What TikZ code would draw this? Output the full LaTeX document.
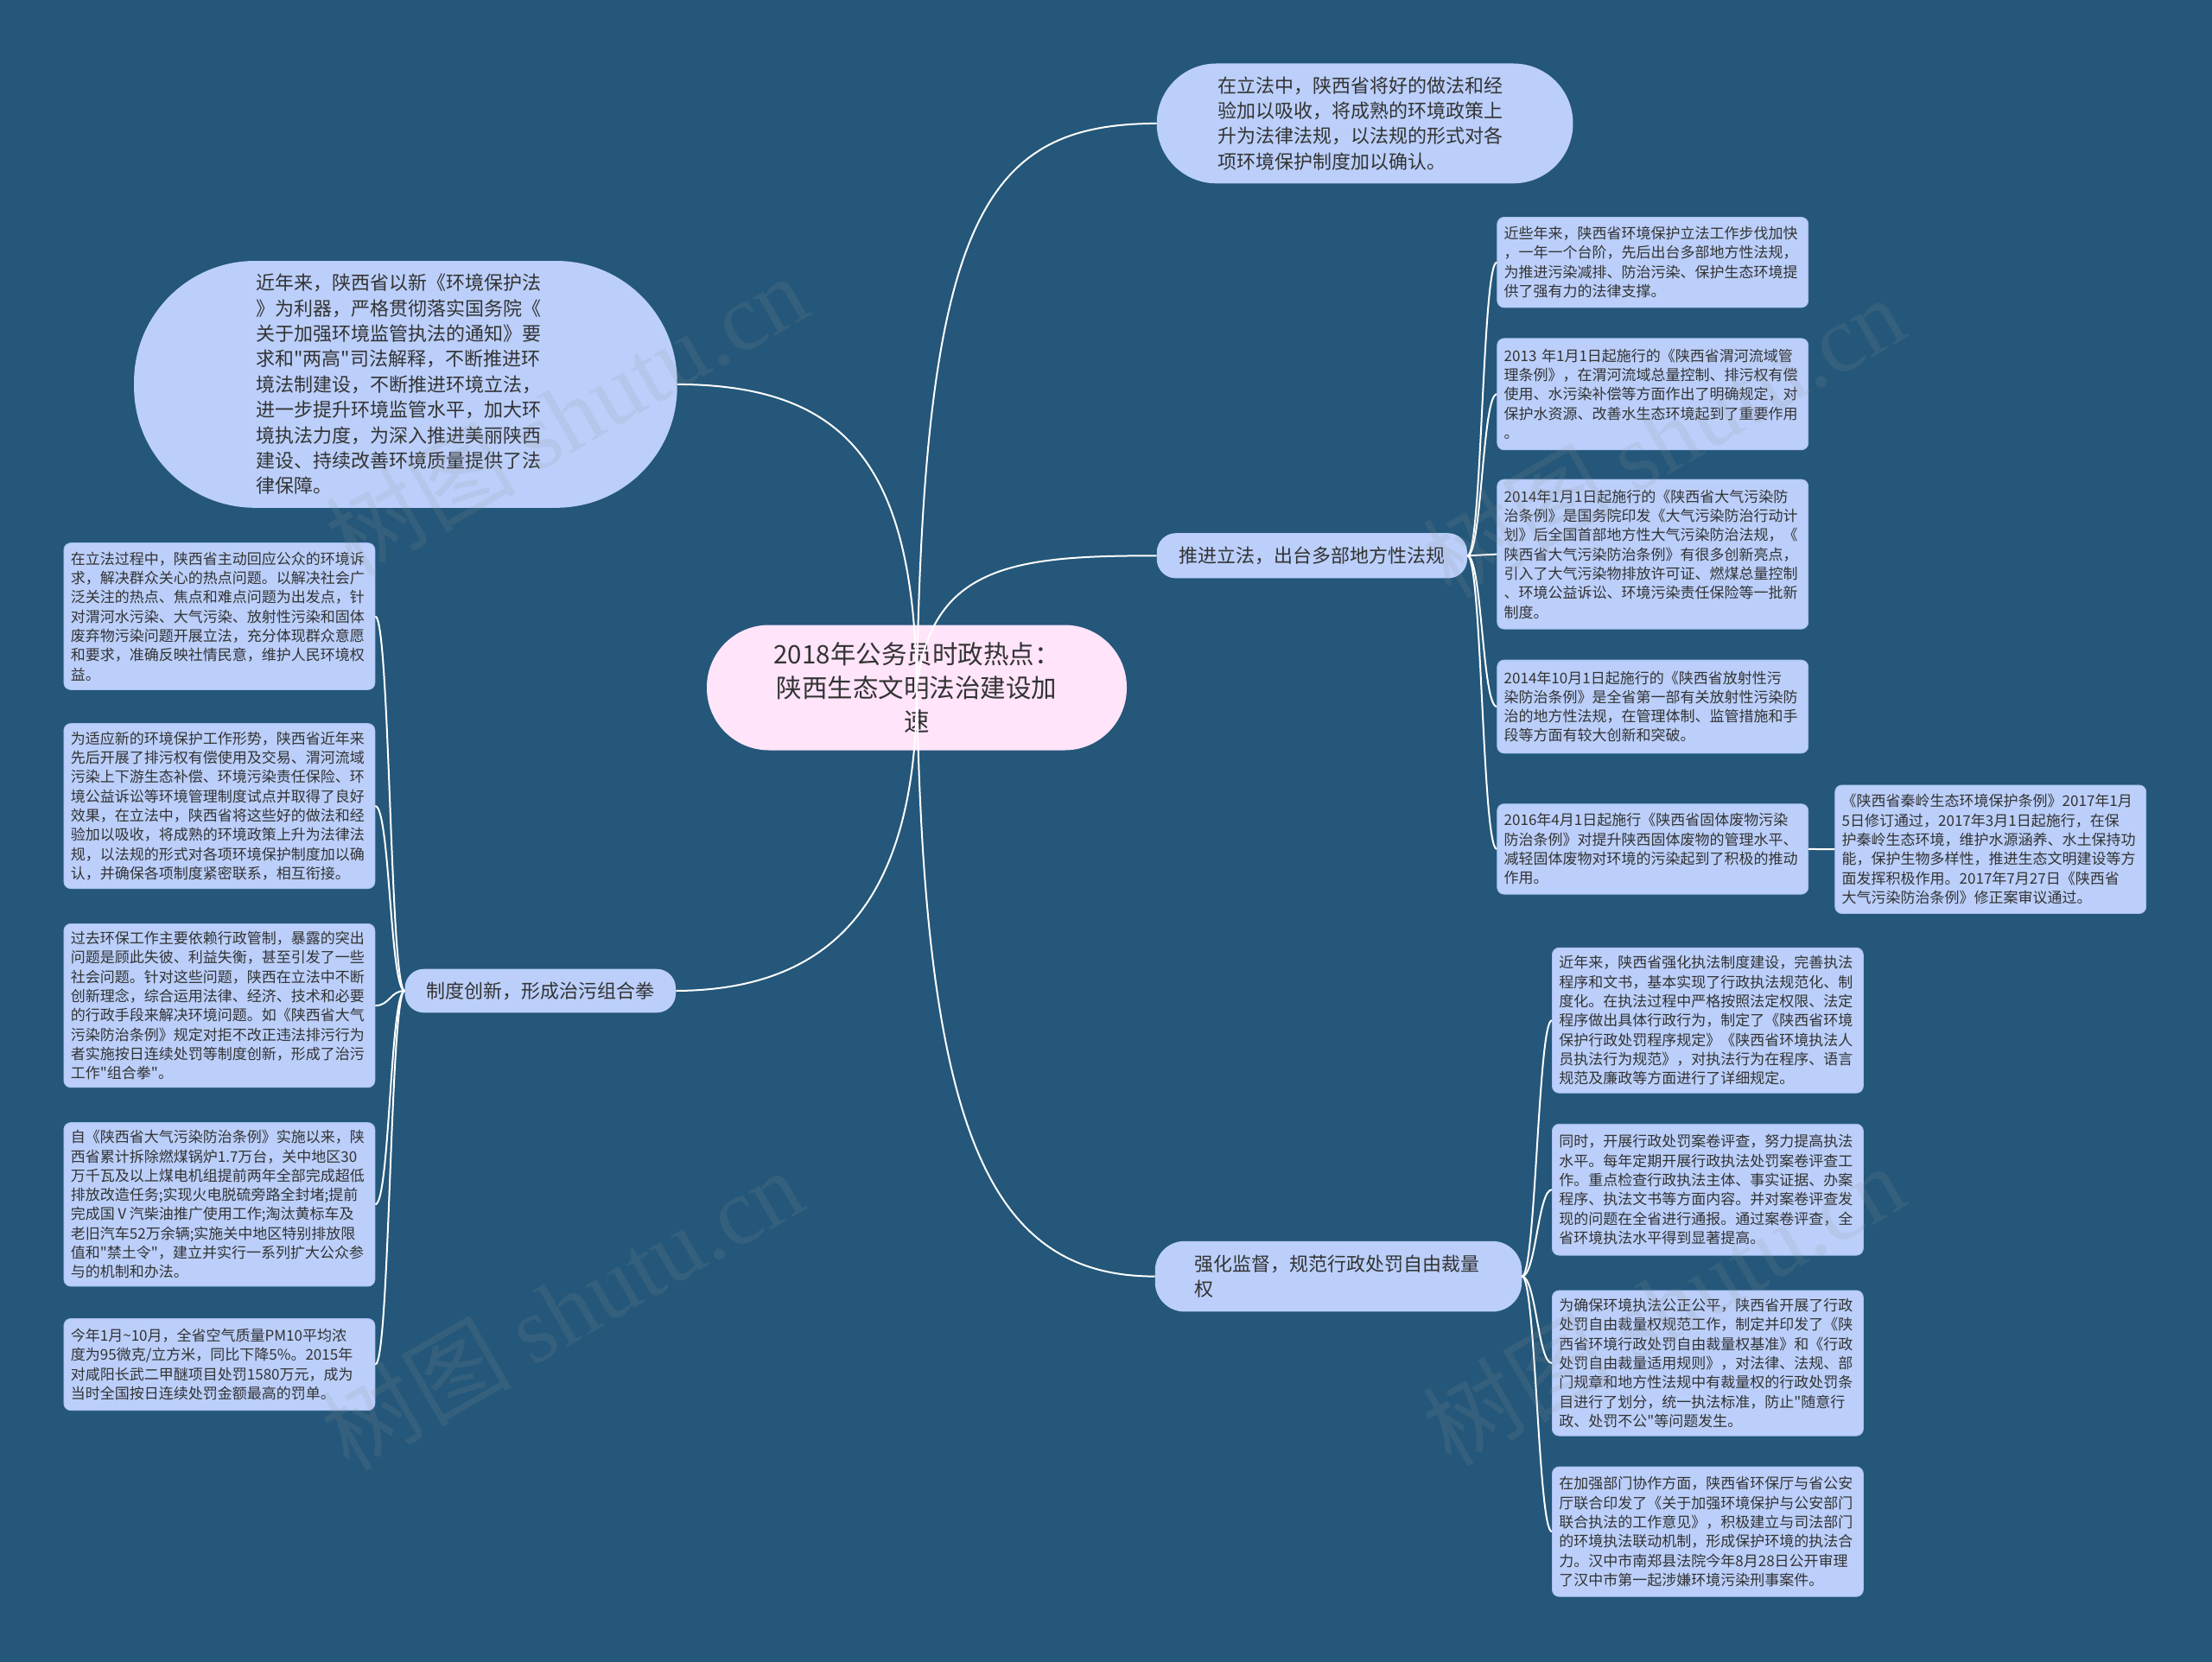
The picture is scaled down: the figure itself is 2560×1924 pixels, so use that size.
\documentclass[tikz,border=0pt]{standalone}
\usepackage{fontspec}
\setmainfont{Noto Sans CJK SC}[Ligatures=TeXOff]
\newfontfamily\wmserif{Liberation Serif}
\definecolor{bg}{HTML}{245779}
\definecolor{nodeblue}{HTML}{BBCFFA}
\definecolor{pinkfill}{HTML}{FFE4FA}
\definecolor{txt}{HTML}{333333}
\definecolor{leafline}{HTML}{A8C0F2}
\definecolor{wmgray}{HTML}{969696}
\begin{document}
\begin{tikzpicture}[x=1pt,y=-1pt,
  nbase/.style={fill=nodeblue, text=txt, anchor=center},
  bignode/.style={nbase, font=\fontsize{22}{29.4}\selectfont, align=left},
  branchnode/.style={nbase, font=\fontsize{22}{29.4}\selectfont, inner sep=0pt},
  leafnode/.style={nbase, draw=leafline, line width=0.8pt, rounded corners=8pt,
    font=\fontsize{17}{22.3}\selectfont, text width=344pt, align=left,
    inner xsep=8pt, inner ysep=0pt},
  link/.style={draw=white, line width=2pt},
  wm/.style={text=wmgray, opacity=0.15, rotate=30, font=\fontsize{110}{110}\selectfont}
]
\useasboundingbox (0,0) rectangle (2560,1924);
\fill[bg] (0,0) rectangle (2560,1924);

% ---------- first level nodes ----------
\node[bignode, rounded corners=69pt, minimum width=481.7pt, minimum height=138.8pt, text width=340pt] (tr) at (1579.6,142.9)
{在立法中，陕西省将好的做法和经\\验加以吸收，将成熟的环境政策上\\升为法律法规，以法规的形式对各\\项环境保护制度加以确认。};

\node[bignode, rounded corners=140pt, minimum width=628.6pt, minimum height=285.8pt, text width=346pt] (lb) at (469.4,444.9)
{近年来，陕西省以新《环境保护法\\》为利器，严格贯彻落实国务院《\\关于加强环境监管执法的通知》要\\求和"两高"司法解释，不断推进环\\境法制建设，不断推进环境立法，\\进一步提升环境监管水平，加大环\\境执法力度，为深入推进美丽陕西\\建设、持续改善环境质量提供了法\\律保障。};

\node[branchnode, rounded corners=22pt, minimum width=359.2pt, minimum height=52.2pt] (b1) at (1518.4,643.3)
{推进立法，出台多部地方性法规};

\node[branchnode, rounded corners=22pt, minimum width=313.5pt, minimum height=50.6pt] (b2) at (625.3,1147)
{制度创新，形成治污组合拳};

\node[branchnode, rounded corners=34pt, minimum width=424.5pt, minimum height=81.6pt, text width=334pt, align=left] (b3) at (1549,1477.6)
{强化监督，规范行政处罚自由裁量\\权};

% ---------- leaves of b1 ----------
\node[leafnode, minimum height=104.5pt] (r1) at (1912.7,303.7)
{近些年来，陕西省环境保护立法工作步伐加快\\，一年一个台阶，先后出台多部地方性法规，\\为推进污染减排、防治污染、保护生态环境提\\供了强有力的法律支撑。};
\node[leafnode, minimum height=129pt] (r2) at (1912.7,456.3)
{2013 年1月1日起施行的《陕西省渭河流域管\\理条例》，在渭河流域总量控制、排污权有偿\\使用、水污染补偿等方面作出了明确规定，对\\保护水资源、改善水生态环境起到了重要作用\\。};
\node[leafnode, minimum height=173.1pt] (r3) at (1912.7,641.6)
{2014年1月1日起施行的《陕西省大气污染防\\治条例》是国务院印发《大气污染防治行动计\\划》后全国首部地方性大气污染防治法规，《\\陕西省大气污染防治条例》有很多创新亮点，\\引入了大气污染物排放许可证、燃煤总量控制\\、环境公益诉讼、环境污染责任保险等一批新\\制度。};
\node[leafnode, minimum height=107.8pt] (r4) at (1912.7,818)
{2014年10月1日起施行的《陕西省放射性污\\染防治条例》是全省第一部有关放射性污染防\\治的地方性法规，在管理体制、监管措施和手\\段等方面有较大创新和突破。};
\node[leafnode, minimum height=104.5pt] (r5) at (1912.7,982.9)
{2016年4月1日起施行《陕西省固体废物污染\\防治条例》对提升陕西固体废物的管理水平、\\减轻固体废物对环境的污染起到了积极的推动\\作用。};
\node[leafnode, minimum height=148.6pt] (r6) at (2303.7,983.2)
{《陕西省秦岭生态环境保护条例》2017年1月\\5日修订通过，2017年3月1日起施行，在保\\护秦岭生态环境，维护水源涵养、水土保持功\\能，保护生物多样性，推进生态文明建设等方\\面发挥积极作用。2017年7月27日《陕西省\\大气污染防治条例》修正案审议通过。};

% ---------- leaves of b2 ----------
\node[leafnode, minimum height=169.8pt] (l1) at (253.9,713.5)
{在立法过程中，陕西省主动回应公众的环境诉\\求，解决群众关心的热点问题。以解决社会广\\泛关注的热点、焦点和难点问题为出发点，针\\对渭河水污染、大气污染、放射性污染和固体\\废弃物污染问题开展立法，充分体现群众意愿\\和要求，准确反映社情民意，维护人民环境权\\益。};
\node[leafnode, minimum height=191pt] (l2) at (253.9,933.1)
{为适应新的环境保护工作形势，陕西省近年来\\先后开展了排污权有偿使用及交易、渭河流域\\污染上下游生态补偿、环境污染责任保险、环\\境公益诉讼等环境管理制度试点并取得了良好\\效果，在立法中，陕西省将这些好的做法和经\\验加以吸收，将成熟的环境政策上升为法律法\\规，以法规的形式对各项环境保护制度加以确\\认，并确保各项制度紧密联系，相互衔接。};
\node[leafnode, minimum height=189.4pt] (l3) at (253.9,1164.1)
{过去环保工作主要依赖行政管制，暴露的突出\\问题是顾此失彼、利益失衡，甚至引发了一些\\社会问题。针对这些问题，陕西在立法中不断\\创新理念，综合运用法律、经济、技术和必要\\的行政手段来解决环境问题。如《陕西省大气\\污染防治条例》规定对拒不改正违法排污行为\\者实施按日连续处罚等制度创新，形成了治污\\工作"组合拳"。};
\node[leafnode, minimum height=189.4pt] (l4) at (253.9,1394.3)
{自《陕西省大气污染防治条例》实施以来，陕\\西省累计拆除燃煤锅炉1.7万台，关中地区30\\万千瓦及以上煤电机组提前两年全部完成超低\\排放改造任务;实现火电脱硫旁路全封堵;提前\\完成国Ⅴ汽柴油推广使用工作;淘汰黄标车及\\老旧汽车52万余辆;实施关中地区特别排放限\\值和"禁土令"，建立并实行一系列扩大公众参\\与的机制和办法。};
\node[leafnode, minimum height=106.1pt] (l5) at (253.9,1579.6)
{今年1月\textasciitilde10月，全省空气质量PM10平均浓\\度为95微克/立方米，同比下降5\%。2015年\\对咸阳长武二甲醚项目处罚1580万元，成为\\当时全国按日连续处罚金额最高的罚单。};

% ---------- leaves of b3 ----------
\node[leafnode, minimum height=168.1pt] (s1) at (1976.4,1181.2)
{近年来，陕西省强化执法制度建设，完善执法\\程序和文书，基本实现了行政执法规范化、制\\度化。在执法过程中严格按照法定权限、法定\\程序做出具体行政行为，制定了《陕西省环境\\保护行政处罚程序规定》《陕西省环境执法人\\员执法行为规范》，对执法行为在程序、语言\\规范及廉政等方面进行了详细规定。};
\node[leafnode, minimum height=151.8pt] (s2) at (1976.4,1377.2)
{同时，开展行政处罚案卷评查，努力提高执法\\水平。每年定期开展行政执法处罚案卷评查工\\作。重点检查行政执法主体、事实证据、办案\\程序、执法文书等方面内容。并对案卷评查发\\现的问题在全省进行通报。通过案卷评查，全\\省环境执法水平得到显著提高。};
\node[leafnode, minimum height=168.2pt] (s3) at (1976.4,1578)
{为确保环境执法公正公平，陕西省开展了行政\\处罚自由裁量权规范工作，制定并印发了《陕\\西省环境行政处罚自由裁量权基准》和《行政\\处罚自由裁量适用规则》，对法律、法规、部\\门规章和地方性法规中有裁量权的行政处罚条\\目进行了划分，统一执法标准，防止"随意行\\政、处罚不公"等问题发生。};
\node[leafnode, minimum height=150.2pt] (s4) at (1976.4,1773.1)
{在加强部门协作方面，陕西省环保厅与省公安\\厅联合印发了《关于加强环境保护与公安部门\\联合执法的工作意见》，积极建立与司法部门\\的环境执法联动机制，形成保护环境的执法合\\力。汉中市南郑县法院今年8月28日公开审理\\了汉中市第一起涉嫌环境污染刑事案件。};

% ---------- leaf connectors ----------
\foreach \n in {r1,r2,r3,r4,r5}
  \draw[link] (b1.east) .. controls +(17,0) and +(-17,0) .. (\n.west);
\draw[link] (r5.east) -- (r6.west);
\foreach \n in {l1,l2,l3,l4,l5}
  \draw[link] (b2.west) .. controls +(-17,0) and +(17,0) .. (\n.east);
\foreach \n in {s1,s2,s3,s4}
  \draw[link] (b3.east) .. controls +(16,0) and +(-16,0) .. (\n.west);

% ---------- central topic ----------
\node[fill=pinkfill, text=txt, rounded corners=72pt, minimum width=486pt, minimum height=145pt,
      text width=400pt, align=center, font=\fontsize{29.5}{39}\selectfont] (c) at (1061,796)
{2018年公务员时政热点：\\陕西生态文明法治建设加\\速};

% ---------- main connectors (drawn over the central topic) ----------
\draw[link] (c.center) .. controls (1069.4,244.9) and (1142.9,143.7) .. (tr.west);
\draw[link] (lb.east) .. controls (979.6,445.7) and (1058,538.8) .. (c.center);
\draw[link] (c.center) .. controls (1077.6,653.1) and (1175.5,643.3) .. (b1.west);
\draw[link] (c.center) .. controls (1061.3,1061.3) and (947,1146.2) .. (b2.east);
\draw[link] (c.center) .. controls (1069.4,1306.2) and (1142.9,1477.6) .. (b3.west);

% ---------- watermarks ----------
\node[wm] (w1) at (655,480) {树图 {\wmserif shutu.cn}};
\node[wm] (w2) at (1925,505) {树图 {\wmserif shutu.cn}};
\node[wm] (w3) at (650,1515) {树图 {\wmserif shutu.cn}};
\node[wm] (w4) at (1925,1510) {树图 {\wmserif shutu.cn}};
\end{tikzpicture}
\end{document}
